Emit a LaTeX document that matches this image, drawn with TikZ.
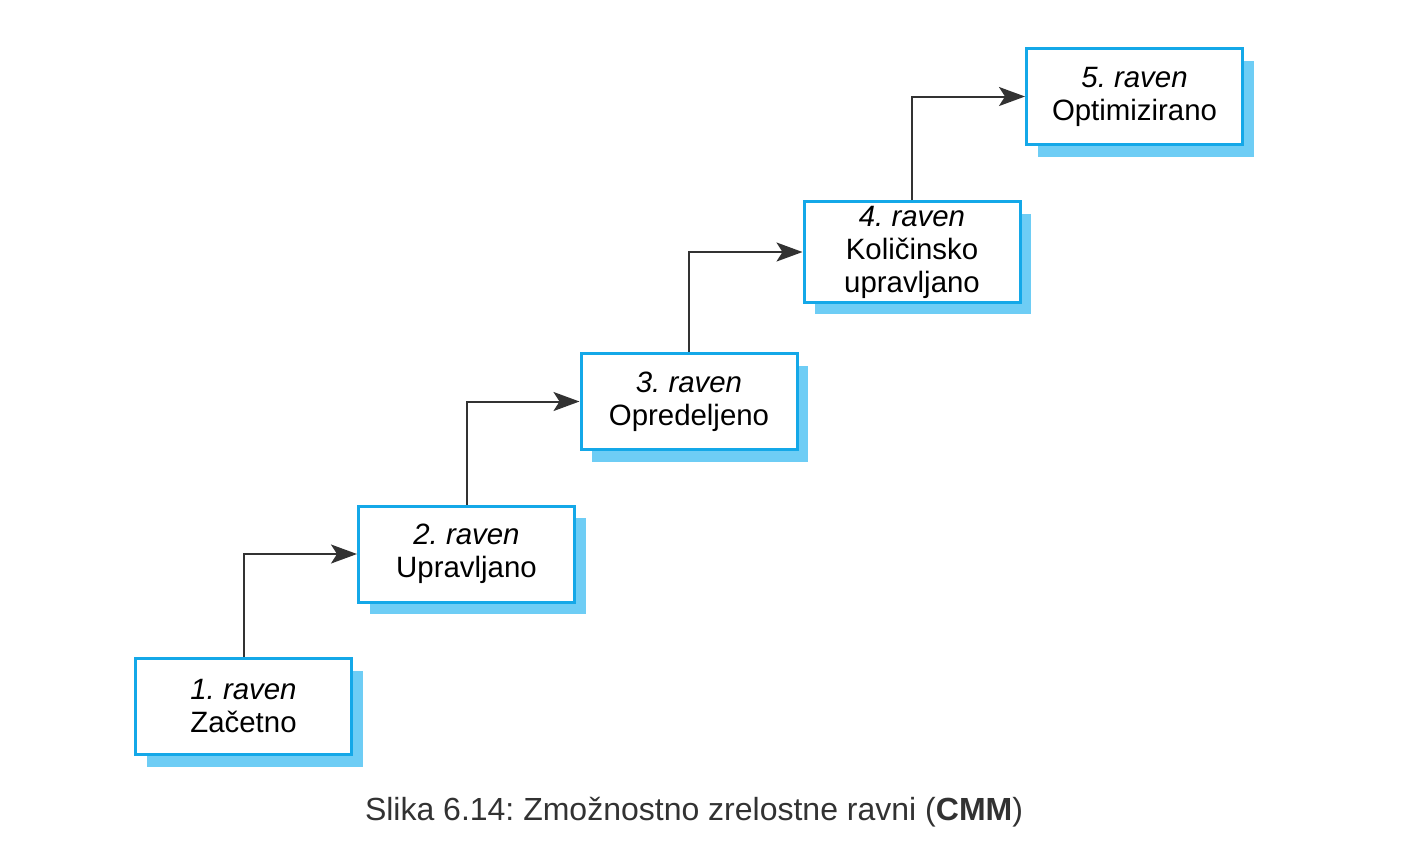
\documentclass[tikz,border=0pt]{standalone}
\usepackage{fontspec}
\setmainfont{Liberation Sans}
\usetikzlibrary{arrows.meta,shadows}
\frenchspacing

\definecolor{levelblue}{RGB}{20,168,232}
\definecolor{shadowblue}{RGB}{110,205,245}
\definecolor{arrowgray}{RGB}{50,50,50}

\begin{document}
\begin{tikzpicture}[x=0.5pt,y=-0.5pt,
    level/.style={draw=levelblue, line width=1.5pt, fill=white, align=center,
        minimum width=108pt, minimum height=48pt, inner ysep=2pt,
        font=\fontsize{14.7}{16.5}\selectfont,
        drop shadow={shadow xshift=5.5pt, shadow yshift=-6pt, fill=shadowblue, opacity=1}},
    conn/.style={draw=arrowgray, line width=1pt,
        -{Stealth[length=13pt, width=9.5pt, inset=3pt]}}]
    \useasboundingbox (0,0) rectangle (1401,848);
    % stopnje
    \node[level] (l1) at (243.5,706.5) {\itshape 1. raven\\Začetno};
    \node[level] (l2) at (466.5,554) {\itshape 2. raven\\Upravljano};
    \node[level] (l3) at (689,401.5) {\itshape 3. raven\\Opredeljeno};
    \node[level] (l4) at (912,252) {\itshape 4. raven\\Količinsko\\upravljano};
    \node[level] (l5) at (1134.5,96.5) {\itshape 5. raven\\Optimizirano};
    % puscice
    \draw[conn] (l1.north) |- (l2.west);
    \draw[conn] (l2.north) |- (l3.west);
    \draw[conn] (l3.north) |- (l4.west);
    \draw[conn] (l4.north) |- (l5.west);
    % napis
    \node[text=arrowgray, font=\fontsize{16}{19}\selectfont] (cap) at (694,812)
        {Slika 6.14: Zmožnostno zrelostne ravni (\textbf{CMM})};
\end{tikzpicture}
\end{document}
